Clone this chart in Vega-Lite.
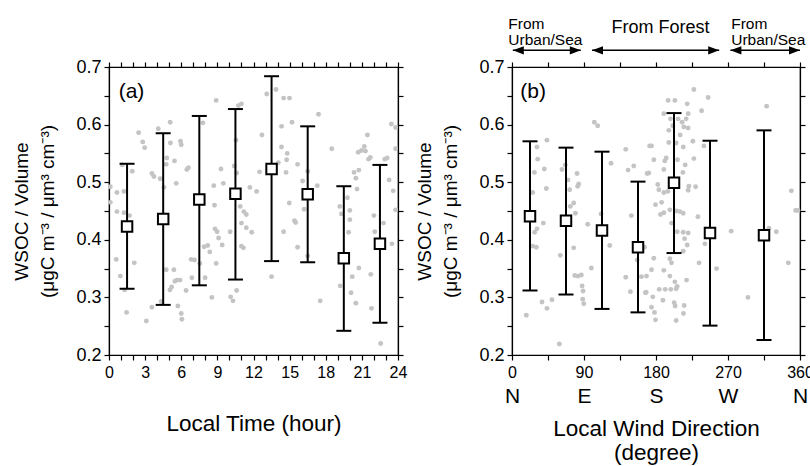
{
  "$schema": "https://vega.github.io/schema/vega-lite/v6.json",
  "autosize": {"type": "pad"},
  "padding": {"left": 12, "top": 16, "right": 0, "bottom": 0},
  "background": "white",
  "bounds": "flush",
  "spacing": 114,
  "config": {
    "view": {"stroke": "black", "strokeWidth": 1.2},
    "axis": {
      "grid": false,
      "labelFont": "Liberation Sans",
      "labelFontSize": 16,
      "labelColor": "black",
      "titleFont": "Liberation Sans",
      "titleFontWeight": "normal",
      "titleColor": "black",
      "tickColor": "black",
      "tickSize": 5,
      "tickWidth": 1.2,
      "domainColor": "black",
      "domainWidth": 1.2,
      "labelFlush": false,
      "labelOverlap": false,
      "labelBound": false
    },
    "text": {"font": "Liberation Sans", "color": "black"}
  },
  "datasets": {
    "ptsA": [
      {"h":0.11,"v":0.492},{"h":0.11,"v":0.465},{"h":0.66,"v":0.482},{"h":0.66,"v":0.449},{"h":0.6,"v":0.366},{"h":0.94,"v":0.337},{"h":1.24,"v":0.447},{"h":1.24,"v":0.484},{"h":1.1,"v":0.53},{"h":1.3,"v":0.313},{"h":1.46,"v":0.274},{"h":1.7,"v":0.442},{"h":1.93,"v":0.519},{"h":2.1,"v":0.36},{"h":2.46,"v":0.586},{"h":2.8,"v":0.57},{"h":2.96,"v":0.56},{"h":3.1,"v":0.259},{"h":3.56,"v":0.515},{"h":3.56,"v":0.283},{"h":3.73,"v":0.51},{"h":4.09,"v":0.593},{"h":4.25,"v":0.506},{"h":4.34,"v":0.293},{"h":4.56,"v":0.491},{"h":4.75,"v":0.531},{"h":4.8,"v":0.542},{"h":5.08,"v":0.604},{"h":5.1,"v":0.568},{"h":4.75,"v":0.348},{"h":5.06,"v":0.313},{"h":5.2,"v":0.318},{"h":5.44,"v":0.537},{"h":5.39,"v":0.348},{"h":5.47,"v":0.328},{"h":5.58,"v":0.498},{"h":5.64,"v":0.33},{"h":5.72,"v":0.285},{"h":5.9,"v":0.33},{"h":5.94,"v":0.571},{"h":6.0,"v":0.565},{"h":6.05,"v":0.262},{"h":6.0,"v":0.272},{"h":6.4,"v":0.312},{"h":6.46,"v":0.522},{"h":6.6,"v":0.525},{"h":6.82,"v":0.366},{"h":7.1,"v":0.365},{"h":6.88,"v":0.334},{"h":7.54,"v":0.359},{"h":7.8,"v":0.603},{"h":7.9,"v":0.388},{"h":7.98,"v":0.334},{"h":8.2,"v":0.39},{"h":8.37,"v":0.379},{"h":8.54,"v":0.3},{"h":8.7,"v":0.494},{"h":8.76,"v":0.46},{"h":8.8,"v":0.419},{"h":8.9,"v":0.642},{"h":8.98,"v":0.414},{"h":9.1,"v":0.403},{"h":8.9,"v":0.359},{"h":9.4,"v":0.391},{"h":9.3,"v":0.523},{"h":9.5,"v":0.498},{"h":10.06,"v":0.414},{"h":10.1,"v":0.301},{"h":10.3,"v":0.294},{"h":10.4,"v":0.528},{"h":10.55,"v":0.573},{"h":10.6,"v":0.516},{"h":10.6,"v":0.312},{"h":10.75,"v":0.633},{"h":11.0,"v":0.636},{"h":10.78,"v":0.475},{"h":10.9,"v":0.458},{"h":11.0,"v":0.389},{"h":11.0,"v":0.429},{"h":11.16,"v":0.386},{"h":11.2,"v":0.449},{"h":11.4,"v":0.444},{"h":11.4,"v":0.421},{"h":11.85,"v":0.413},{"h":11.7,"v":0.491},{"h":12.26,"v":0.484},{"h":12.5,"v":0.518},{"h":12.7,"v":0.582},{"h":13.1,"v":0.653},{"h":13.5,"v":0.336},{"h":13.87,"v":0.661},{"h":14.06,"v":0.534},{"h":14.33,"v":0.561},{"h":14.33,"v":0.597},{"h":14.5,"v":0.646},{"h":14.99,"v":0.646},{"h":14.8,"v":0.55},{"h":14.7,"v":0.517},{"h":14.75,"v":0.539},{"h":14.5,"v":0.414},{"h":14.97,"v":0.464},{"h":15.2,"v":0.604},{"h":15.4,"v":0.433},{"h":15.5,"v":0.43},{"h":15.66,"v":0.531},{"h":15.66,"v":0.387},{"h":16.08,"v":0.502},{"h":16.2,"v":0.453},{"h":16.5,"v":0.519},{"h":16.5,"v":0.372},{"h":17.4,"v":0.618},{"h":17.3,"v":0.494},{"h":17.54,"v":0.294},{"h":18.5,"v":0.558},{"h":19.17,"v":0.458},{"h":19.2,"v":0.32},{"h":19.3,"v":0.445},{"h":19.8,"v":0.473},{"h":20.0,"v":0.435},{"h":19.9,"v":0.413},{"h":20.0,"v":0.451},{"h":20.1,"v":0.308},{"h":20.2,"v":0.336},{"h":20.35,"v":0.517},{"h":20.5,"v":0.507},{"h":20.5,"v":0.29},{"h":20.6,"v":0.488},{"h":20.7,"v":0.552},{"h":20.75,"v":0.351},{"h":20.75,"v":0.521},{"h":20.97,"v":0.555},{"h":21.2,"v":0.562},{"h":21.3,"v":0.554},{"h":21.46,"v":0.582},{"h":21.55,"v":0.54},{"h":21.7,"v":0.543},{"h":21.74,"v":0.34},{"h":21.8,"v":0.281},{"h":22.0,"v":0.442},{"h":22.07,"v":0.414},{"h":22.56,"v":0.22},{"h":22.8,"v":0.429},{"h":22.9,"v":0.54},{"h":23.1,"v":0.542},{"h":23.26,"v":0.504},{"h":23.5,"v":0.393},{"h":23.6,"v":0.485},{"h":23.45,"v":0.601},{"h":23.8,"v":0.595},{"h":23.8,"v":0.558},{"h":23.8,"v":0.452}
    ],
    "barsA": [
      {"h":1.5,"m":0.423,"lo":0.315,"hi":0.532},
      {"h":4.5,"m":0.436,"lo":0.287,"hi":0.585},
      {"h":7.5,"m":0.47,"lo":0.321,"hi":0.615},
      {"h":10.5,"m":0.48,"lo":0.331,"hi":0.627},
      {"h":13.5,"m":0.523,"lo":0.363,"hi":0.684},
      {"h":16.5,"m":0.479,"lo":0.361,"hi":0.597},
      {"h":19.5,"m":0.368,"lo":0.242,"hi":0.493},
      {"h":22.5,"m":0.393,"lo":0.256,"hi":0.53}
    ],
    "ptsB": [
      {"d":17.9,"v":0.269},{"d":31.2,"v":0.561},{"d":32.1,"v":0.54},{"d":28.0,"v":0.517},{"d":25.8,"v":0.482},{"d":39.2,"v":0.429},{"d":31.3,"v":0.419},{"d":28.3,"v":0.413},{"d":25.8,"v":0.389},{"d":30.4,"v":0.387},{"d":40.4,"v":0.523},{"d":43.7,"v":0.573},{"d":42.9,"v":0.489},{"d":37.5,"v":0.292},{"d":43.7,"v":0.281},{"d":50.0,"v":0.296},{"d":59.2,"v":0.219},{"d":60.4,"v":0.373},{"d":62.5,"v":0.522},{"d":66.7,"v":0.53},{"d":70.0,"v":0.504},{"d":72.1,"v":0.487},{"d":72.9,"v":0.458},{"d":77.1,"v":0.464},{"d":79.2,"v":0.446},{"d":77.1,"v":0.386},{"d":78.4,"v":0.338},{"d":82.5,"v":0.337},{"d":86.7,"v":0.339},{"d":87.6,"v":0.32},{"d":88.8,"v":0.311},{"d":88.4,"v":0.297},{"d":89.7,"v":0.289},{"d":81.3,"v":0.515},{"d":82.1,"v":0.493},{"d":83.4,"v":0.497},{"d":94.6,"v":0.427},{"d":99.2,"v":0.351},{"d":102.9,"v":0.604},{"d":107.1,"v":0.598},{"d":111.3,"v":0.445},{"d":122.2,"v":0.39},{"d":123.8,"v":0.533},{"d":142.2,"v":0.557},{"d":145.1,"v":0.521},{"d":152.2,"v":0.528},{"d":149.2,"v":0.442},{"d":142.2,"v":0.335},{"d":148.0,"v":0.31},{"d":156.4,"v":0.365},{"d":161.8,"v":0.336},{"d":165.6,"v":0.387},{"d":166.8,"v":0.308},{"d":168.1,"v":0.337},{"d":172.0,"v":0.563},{"d":171.0,"v":0.516},
      {"d":227.3,"v":0.661},{"d":245.2,"v":0.647},{"d":195.2,"v":0.642},{"d":203.6,"v":0.642},{"d":219.0,"v":0.636},{"d":189.8,"v":0.619},{"d":237.0,"v":0.624},{"d":198.1,"v":0.61},{"d":207.7,"v":0.61},{"d":212.7,"v":0.604},{"d":220.2,"v":0.619},{"d":217.7,"v":0.61},{"d":214.8,"v":0.596},{"d":201.0,"v":0.598},{"d":196.0,"v":0.59},{"d":220.2,"v":0.594},{"d":210.2,"v":0.582},{"d":196.0,"v":0.569},{"d":205.2,"v":0.568},{"d":214.0,"v":0.561},{"d":226.1,"v":0.571},{"d":239.9,"v":0.563},{"d":174.4,"v":0.563},{"d":177.3,"v":0.539},{"d":192.7,"v":0.542},{"d":191.0,"v":0.537},{"d":206.9,"v":0.539},{"d":216.5,"v":0.53},{"d":213.6,"v":0.517},{"d":189.8,"v":0.522},{"d":227.3,"v":0.541},{"d":168.9,"v":0.515},{"d":182.2,"v":0.496},{"d":183.5,"v":0.487},{"d":189.8,"v":0.482},{"d":194.8,"v":0.484},{"d":221.1,"v":0.493},{"d":220.2,"v":0.486},{"d":229.5,"v":0.492},{"d":179.4,"v":0.461},{"d":187.0,"v":0.465},{"d":189.8,"v":0.447},{"d":185.6,"v":0.444},{"d":197.3,"v":0.452},{"d":205.6,"v":0.45},{"d":209.8,"v":0.449},{"d":214.0,"v":0.446},{"d":199.4,"v":0.429},{"d":206.5,"v":0.414},{"d":214.0,"v":0.413},{"d":220.2,"v":0.412},{"d":215.7,"v":0.402},{"d":219.0,"v":0.391},{"d":241.1,"v":0.393},{"d":232.4,"v":0.44},{"d":214.0,"v":0.38},{"d":197.3,"v":0.367},{"d":199.4,"v":0.36},{"d":177.3,"v":0.368},{"d":233.8,"v":0.36},{"d":255.7,"v":0.35},{"d":174.4,"v":0.348},{"d":189.8,"v":0.347},{"d":197.3,"v":0.337},{"d":203.6,"v":0.327},{"d":218.2,"v":0.33},{"d":206.5,"v":0.319},{"d":184.0,"v":0.314},{"d":191.5,"v":0.314},{"d":198.5,"v":0.314},{"d":205.2,"v":0.315},{"d":167.7,"v":0.309},{"d":176.0,"v":0.301},{"d":188.6,"v":0.295},{"d":202.7,"v":0.291},{"d":203.9,"v":0.285},{"d":215.2,"v":0.286},{"d":174.4,"v":0.283},{"d":178.1,"v":0.274},{"d":214.4,"v":0.272},{"d":179.4,"v":0.261},{"d":205.2,"v":0.26},{"d":274.0,"v":0.415},{"d":294.9,"v":0.3},{"d":318.3,"v":0.632},{"d":321.2,"v":0.42},{"d":330.4,"v":0.414},{"d":345.4,"v":0.36},{"d":349.2,"v":0.485},{"d":354.6,"v":0.451},{"d":357.5,"v":0.451}
    ],
    "barsB": [
      {"d":22.5,"m":0.441,"lo":0.312,"hi":0.571},
      {"d":67.5,"m":0.433,"lo":0.305,"hi":0.56},
      {"d":112.5,"m":0.416,"lo":0.28,"hi":0.553},
      {"d":157.5,"m":0.387,"lo":0.274,"hi":0.501},
      {"d":202.5,"m":0.499,"lo":0.377,"hi":0.62},
      {"d":247.5,"m":0.412,"lo":0.251,"hi":0.572},
      {"d":315,"m":0.408,"lo":0.226,"hi":0.59}
    ],
    "arrows": [
      {"d":1,"d2":86,"v":0.729},
      {"d":100,"d2":259,"v":0.729},
      {"d":273,"d2":360,"v":0.729}
    ],
    "heads": [
      {"d":1,"v":0.729,"dir":"left"},{"d":86,"v":0.729,"dir":"right"},
      {"d":100,"v":0.729,"dir":"left"},{"d":259,"v":0.729,"dir":"right"},
      {"d":273,"v":0.729,"dir":"left"},{"d":360,"v":0.729,"dir":"right"}
    ],
    "srcSmall": [
      {"d":-4.6,"v":0.774,"t":"From\nUrban/Sea"},
      {"d":274,"v":0.774,"t":"From\nUrban/Sea"}
    ],
    "srcBig": [
      {"d":185.6,"v":0.768,"t":"From Forest"}
    ]
  },
  "hconcat": [
    {
      "width": 289,
      "height": 288,
      "resolve": {"axis": {"x": "independent", "y": "independent"}},
      "layer": [
        {
          "data": {"name": "ptsA"},
          "mark": {"type": "circle", "color": "#c4c4c4", "opacity": 1, "size": 24},
          "encoding": {
            "x": {"field": "h", "type": "quantitative", "scale": {"domain": [0, 24], "nice": false, "zero": false},
              "axis": {"values": [0,1,2,3,4,5,6,7,8,9,10,11,12,13,14,15,16,17,18,19,20,21,22,23,24], "format": "d", "labelExpr": "datum.value % 3 == 0 ? datum.label : ''", "labelPadding": 4, "title": "Local Time (hour)", "titleFontSize": 22.5, "titlePadding": 32}},
            "y": {"field": "v", "type": "quantitative", "scale": {"domain": [0.2, 0.7], "nice": false, "zero": false},
              "axis": {"values": [0.2,0.25,0.3,0.35,0.4,0.45,0.5,0.55,0.6,0.65,0.7], "labelExpr": "round(datum.value*100) % 10 == 0 ? format(datum.value, '.1f') : ''", "labelFontSize": 18, "labelPadding": 3, "title": ["WSOC / Volume", "(μgC m⁻³ / μm³ cm⁻³)"], "titleFontSize": 19, "titleLineHeight": 26, "titlePadding": 18}}
          }
        },
        {
          "data": {"name": "barsA"},
          "mark": {"type": "rule", "color": "black", "strokeWidth": 2},
          "encoding": {
            "x": {"field": "h", "type": "quantitative", "scale": {"domain": [0, 24], "nice": false, "zero": false},
              "axis": {"orient": "top", "values": [0,1,2,3,4,5,6,7,8,9,10,11,12,13,14,15,16,17,18,19,20,21,22,23,24], "labels": false, "title": null}},
            "y": {"field": "lo", "type": "quantitative", "scale": {"domain": [0.2, 0.7], "nice": false, "zero": false},
              "axis": {"orient": "right", "values": [0.2,0.25,0.3,0.35,0.4,0.45,0.5,0.55,0.6,0.65,0.7], "labels": false, "title": null}},
            "y2": {"field": "hi"}
          }
        },
        {
          "data": {"name": "barsA"},
          "mark": {"type": "tick", "orient": "horizontal", "size": 15, "thickness": 2, "color": "black", "opacity": 1},
          "encoding": {
            "x": {"field": "h", "type": "quantitative", "scale": {"domain": [0, 24], "nice": false, "zero": false}, "axis": null},
            "y": {"field": "lo", "type": "quantitative", "scale": {"domain": [0.2, 0.7], "nice": false, "zero": false}, "axis": null}
          }
        },
        {
          "data": {"name": "barsA"},
          "mark": {"type": "tick", "orient": "horizontal", "size": 15, "thickness": 2, "color": "black", "opacity": 1},
          "encoding": {
            "x": {"field": "h", "type": "quantitative", "scale": {"domain": [0, 24], "nice": false, "zero": false}, "axis": null},
            "y": {"field": "hi", "type": "quantitative", "scale": {"domain": [0.2, 0.7], "nice": false, "zero": false}, "axis": null}
          }
        },
        {
          "data": {"name": "barsA"},
          "mark": {"type": "point", "shape": "square", "filled": true, "fill": "white", "stroke": "black", "strokeWidth": 2, "size": 110, "opacity": 1},
          "encoding": {
            "x": {"field": "h", "type": "quantitative", "scale": {"domain": [0, 24], "nice": false, "zero": false}, "axis": null},
            "y": {"field": "m", "type": "quantitative", "scale": {"domain": [0.2, 0.7], "nice": false, "zero": false}, "axis": null}
          }
        },
        {
          "data": {"values": [{"h": 0.8, "v": 0.657, "t": "(a)"}]},
          "mark": {"type": "text", "align": "left", "baseline": "middle", "fontSize": 21},
          "encoding": {
            "x": {"field": "h", "type": "quantitative", "scale": {"domain": [0, 24], "nice": false, "zero": false}, "axis": null},
            "y": {"field": "v", "type": "quantitative", "scale": {"domain": [0.2, 0.7], "nice": false, "zero": false}, "axis": null},
            "text": {"field": "t"}
          }
        }
      ]
    },
    {
      "width": 288,
      "height": 288,
      "resolve": {"axis": {"x": "independent", "y": "independent"}},
      "layer": [
        {
          "data": {"name": "ptsB"},
          "mark": {"type": "circle", "color": "#c4c4c4", "opacity": 1, "size": 24},
          "encoding": {
            "x": {"field": "d", "type": "quantitative", "scale": {"domain": [0, 360], "nice": false, "zero": false},
              "axis": {"values": [0,45,90,135,180,225,270,315,360], "format": "d", "labelExpr": "datum.value % 90 == 0 ? datum.label : ''", "labelPadding": 4, "title": null}},
            "y": {"field": "v", "type": "quantitative", "scale": {"domain": [0.2, 0.7], "nice": false, "zero": false},
              "axis": {"values": [0.2,0.25,0.3,0.35,0.4,0.45,0.5,0.55,0.6,0.65,0.7], "labelExpr": "round(datum.value*100) % 10 == 0 ? format(datum.value, '.1f') : ''", "labelFontSize": 18, "labelPadding": 3, "title": ["WSOC / Volume", "(μgC m⁻³ / μm³ cm⁻³)"], "titleFontSize": 19, "titleLineHeight": 26, "titlePadding": 18}}
          }
        },
        {
          "data": {"name": "barsB"},
          "mark": {"type": "rule", "color": "black", "strokeWidth": 2},
          "encoding": {
            "x": {"field": "d", "type": "quantitative", "scale": {"domain": [0, 360], "nice": false, "zero": false},
              "axis": {"orient": "top", "values": [0,45,90,135,180,225,270,315,360], "labels": false, "title": null}},
            "y": {"field": "lo", "type": "quantitative", "scale": {"domain": [0.2, 0.7], "nice": false, "zero": false},
              "axis": {"orient": "right", "values": [0.2,0.25,0.3,0.35,0.4,0.45,0.5,0.55,0.6,0.65,0.7], "labels": false, "title": null}},
            "y2": {"field": "hi"}
          }
        },
        {
          "data": {"name": "barsB"},
          "mark": {"type": "tick", "orient": "horizontal", "size": 15, "thickness": 2, "color": "black", "opacity": 1},
          "encoding": {
            "x": {"field": "d", "type": "quantitative", "scale": {"domain": [0, 360], "nice": false, "zero": false},
              "axis": {"orient": "bottom", "offset": 26, "values": [0,90,180,270,360], "ticks": false, "domain": false, "labelFontSize": 21, "labelPadding": 4, "labelExpr": "['N','E','S','W','N'][round(datum.value/90)]", "title": ["Local Wind Direction", "(degree)"], "titleFontSize": 22.5, "titleLineHeight": 24, "titlePadding": 11}},
            "y": {"field": "lo", "type": "quantitative", "scale": {"domain": [0.2, 0.7], "nice": false, "zero": false}, "axis": null}
          }
        },
        {
          "data": {"name": "barsB"},
          "mark": {"type": "tick", "orient": "horizontal", "size": 15, "thickness": 2, "color": "black", "opacity": 1},
          "encoding": {
            "x": {"field": "d", "type": "quantitative", "scale": {"domain": [0, 360], "nice": false, "zero": false}, "axis": null},
            "y": {"field": "hi", "type": "quantitative", "scale": {"domain": [0.2, 0.7], "nice": false, "zero": false}, "axis": null}
          }
        },
        {
          "data": {"name": "barsB"},
          "mark": {"type": "point", "shape": "square", "filled": true, "fill": "white", "stroke": "black", "strokeWidth": 2, "size": 110, "opacity": 1},
          "encoding": {
            "x": {"field": "d", "type": "quantitative", "scale": {"domain": [0, 360], "nice": false, "zero": false}, "axis": null},
            "y": {"field": "m", "type": "quantitative", "scale": {"domain": [0.2, 0.7], "nice": false, "zero": false}, "axis": null}
          }
        },
        {
          "data": {"values": [{"d": 10.4, "v": 0.657, "t": "(b)"}]},
          "mark": {"type": "text", "align": "left", "baseline": "middle", "fontSize": 21},
          "encoding": {
            "x": {"field": "d", "type": "quantitative", "scale": {"domain": [0, 360], "nice": false, "zero": false}, "axis": null},
            "y": {"field": "v", "type": "quantitative", "scale": {"domain": [0.2, 0.7], "nice": false, "zero": false}, "axis": null},
            "text": {"field": "t"}
          }
        },
        {
          "data": {"name": "arrows"},
          "mark": {"type": "rule", "color": "black", "strokeWidth": 1.5},
          "encoding": {
            "x": {"field": "d", "type": "quantitative", "scale": {"domain": [0, 360], "nice": false, "zero": false}, "axis": null},
            "x2": {"field": "d2"},
            "y": {"field": "v", "type": "quantitative", "scale": {"domain": [0.2, 0.7], "nice": false, "zero": false}, "axis": null}
          }
        },
        {
          "data": {"name": "heads"},
          "mark": {"type": "point", "filled": true, "color": "black", "opacity": 1, "size": 121, "strokeWidth": 0},
          "encoding": {
            "x": {"field": "d", "type": "quantitative", "scale": {"domain": [0, 360], "nice": false, "zero": false}, "axis": null},
            "y": {"field": "v", "type": "quantitative", "scale": {"domain": [0.2, 0.7], "nice": false, "zero": false}, "axis": null},
            "shape": {"field": "dir", "type": "nominal", "scale": {"domain": ["left", "right"], "range": ["M0,0L2,-0.75L2,0.75Z", "M0,0L-2,-0.75L-2,0.75Z"]}, "legend": null}
          }
        },
        {
          "data": {"name": "srcSmall"},
          "mark": {"type": "text", "align": "left", "baseline": "middle", "fontSize": 15.5, "lineBreak": "\n", "lineHeight": 16},
          "encoding": {
            "x": {"field": "d", "type": "quantitative", "scale": {"domain": [0, 360], "nice": false, "zero": false}, "axis": null},
            "y": {"field": "v", "type": "quantitative", "scale": {"domain": [0.2, 0.7], "nice": false, "zero": false}, "axis": null},
            "text": {"field": "t"}
          }
        },
        {
          "data": {"name": "srcBig"},
          "mark": {"type": "text", "align": "center", "baseline": "middle", "fontSize": 18},
          "encoding": {
            "x": {"field": "d", "type": "quantitative", "scale": {"domain": [0, 360], "nice": false, "zero": false}, "axis": null},
            "y": {"field": "v", "type": "quantitative", "scale": {"domain": [0.2, 0.7], "nice": false, "zero": false}, "axis": null},
            "text": {"field": "t"}
          }
        }
      ]
    }
  ]
}
